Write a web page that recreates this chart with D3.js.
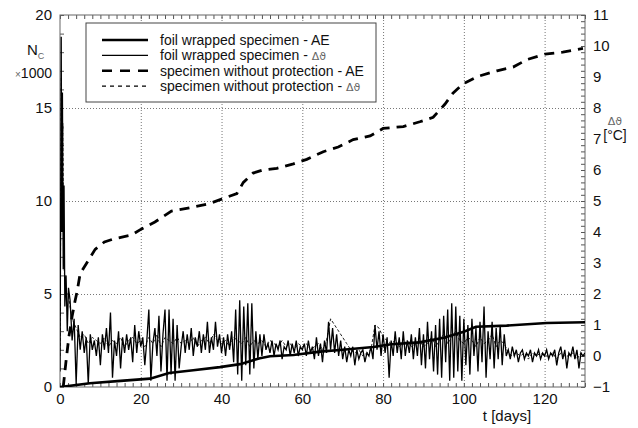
<!DOCTYPE html>
<html lang="en">
<head>
<meta charset="UTF-8">
<title>AE counts and temperature</title>
<script src="https://d3js.org/d3.v7.min.js"></script>
<style>
  body { margin: 0; background: #fff; }
  svg { font-family: "Liberation Sans", Arial, sans-serif; }
  .lbl text { font-size: 15px; fill: #111; }
  .grid line { stroke: #777; stroke-dasharray: 1,2; }
  .minor line { stroke: #555; }
  .domain { display: none; }
</style>
</head>
<body>
<div id="chart"></div>
<script>
// ---- data ----
const xTicks = [0, 20, 40, 60, 80, 100, 120]
const leftTicks = [0, 5, 10, 15, 20]
const rightTicks = [-1, 0, 1, 2, 3, 4, 5, 6, 7, 8, 9, 10, 11]

// cumulative AE counts, N_C x1000  [t days, value]
const foilAE = [[0,0],[2,0.05],[7.4,0.2],[15,0.33],[22.3,0.45],[27,0.75],[33,0.9],[39.6,1.07],
  [44.6,1.23],[49.5,1.55],[52,1.65],[57.8,1.72],[64.4,1.9],[70,2.0],[77.6,2.15],[82,2.3],
  [89,2.4],[95,2.65],[100,2.97],[103,3.24],[110.6,3.3],[120.5,3.44],[130,3.48]]

const bareAE = [[0.8,0],[1.5,1.4],[2.2,2.7],[3,3.8],[3.7,4.6],[4.2,5.1],[5,6.1],[7,6.8],
  [8.7,7.4],[11,7.8],[13.1,7.95],[17.7,8.17],[20.2,8.5],[23.5,8.87],[27.6,9.46],[31.7,9.62],
  [36.7,9.84],[40,10.1],[43.8,10.4],[45.4,11.0],[47.8,11.5],[50,11.65],[53.7,11.76],[57.8,12.0],
  [61.1,12.24],[65.2,12.65],[68.9,12.9],[72.6,13.3],[76.8,13.5],[80,13.9],[85,14.0],[89.1,14.26],
  [92.4,14.5],[95.3,15.2],[97.3,15.8],[99.8,16.3],[103.5,16.7],[108.2,17.0],[112.2,17.2],
  [115.6,17.6],[120.1,17.9],[124.5,18.0],[129.5,18.2]]

// temperature difference, °C
const foilDtStart = [[0,-0.5],[0.2,6],[0.3,10.3],[0.45,4],[0.6,8.5],[0.8,2.8],[1.0,5.5],
  [1.2,1.6],[1.5,2.6],[1.8,0.8],[2.1,2.2]]
const foilDtFrom = 2.5
const foilDtStep = 0.5
const foilDt = [
  1.8, 0.5, 1.2, -0.9, 1.0, 0.2,
  0.8, 0.1, 0.6, -0.9, 0.7, 0.2, 0.5, 0.0, 0.6, -0.3, 0.7, 0.2, 0.9, 0.1,
  1.4, -0.7, 0.5, 0.0, 0.8, -0.4, 0.6, 0.1, 0.7, 0.2, 0.6, -0.2, 1.0, 0.1, 0.8, 0.3,
  0.6, -0.3, 0.5, 1.5, -0.8, 0.4, 0.9, 0.0, 1.3, -0.5, 0.7, 1.5, -0.8, 1.5, -0.6, 1.2, -0.8, 1.0, -0.4, 0.3,
  0.8, 0.1, 0.7, 0.2, 0.9, 0.0, 0.6, 0.3, 0.8, 0.1, 0.7, 0.2, 1.1, 0.1, 0.6, 0.2, 1.1, 0.3, 0.7, 0.1,
  0.6, 0.0, 0.7, 0.2, 0.8, -0.2, 1.5, -0.6, 1.8, -0.8, 1.6, -0.3, 1.7, -0.6, 1.7, -0.4, 0.8, -0.1, 0.7, 0.0,
  0.7, 0.2, 0.4, 0.1, 0.5, 0.0, 0.4, 0.2, 0.5, -0.1, 0.3, 0.2, 0.5, 0.0, 0.4, 0.1, 0.5, 0.0, 0.3, 0.2,
  0.4, 0.0, 0.5, 0.1, 0.3, -0.1, 0.6, 0.0, 0.4, -0.2, 0.5, 0.1, 1.1, 0.2, 0.9, 0.1, 0.7, 0.0, 0.5, -0.1,
  0.3, -0.2, 0.2, 0.0, 0.3, -0.3, 0.2, -0.1, 0.1, 0.2, -0.2, 0.1, 0.0, 0.3, -0.1, 1.0, 0.2, 0.8, 0.0, 0.7,
  0.1, 0.6, -0.7, 0.5, 0.0, 0.8, 0.1, 0.6, -0.1, 0.8, 0.0, 0.5, 0.1, 0.7, -0.1, 0.6, 0.0, 0.9, -0.3, 0.7,
  -0.4, 1.1, -0.1, 0.8, -0.5, 1.0, -0.6, 1.2, -0.7, 1.3, -0.2, 1.5, -0.8, 1.7, -0.7, 1.6, -0.5, 1.3, -0.8, 1.2,
  -0.3, 1.0, -0.6, 1.2, 0.0, 0.9, -0.5, 1.1, -0.2, 1.6, -0.7, 0.8, -0.1, 1.1, -0.4, 0.9, -0.1, 1.0, -0.3, 0.7,
  0.0, 0.2, -0.1, 0.3, 0.0, 0.2, -0.2, 0.1, 0.2, -0.1, 0.1, 0.0, 0.2, -0.2, 0.1, 0.0, 0.2, -0.1, 0.1, 0.0,
  0.2, -0.1, 0.1, 0.0, 0.2, -0.3, 0.1, 0.3, -0.1, 0.2, -0.4, 0.1, 0.0, 0.3, -0.1, 0.2, -0.4, 0.1, 0.0, 0.1
]

const bareDtStart = [[0,0],[0.35,9.0],[0.5,5],[0.7,7.5],[0.9,3.2],[1.2,2.4],[1.5,2.0]]
const bareDtFrom = 2
const bareDtStep = 1
const bareDt = [
  2.0, 1.2, 0.9, 0.6, 0.7, 0.4, 0.6, 0.5, 0.4,
  0.6, 0.3, 0.5, 0.4, 0.6, 0.3, 0.5, 0.6, 0.4, 0.5,
  0.3, 0.6, 0.4, 0.7, 0.3, 0.6, 0.5, 0.4, 0.6, 0.4,
  0.5, 0.4, 0.6, 0.3, 0.5, 0.6, 0.4, 0.7, 0.5, 0.4,
  0.5, 0.3, 0.6, 0.5, 0.4, 0.6, 0.3, 0.5, 0.4, 0.5,
  0.3, 0.5, 0.4, 0.3, 0.5, 0.3, 0.4, 0.2, 0.4, 0.3,
  0.4, 0.2, 0.3, 0.4, 0.2, 0.5, 1.2, 1.0, 0.8, 0.6,
  0.4, 0.2, 0.1, 0.2, 0.0, 0.1, 0.2, 1.0, 0.9, 0.6,
  0.5, 0.4, 0.5, 0.3, 0.4, 0.5, 0.3, 0.4, 0.5, 0.3,
  0.4, 0.6, 0.3, 0.5, 0.7, 0.4, 0.6, 0.8, 0.5, 0.4,
  0.6, 0.5, 0.3, 0.6, 0.4, 0.5, 0.7, 0.3, 0.5, 0.4,
  0.1, 0.0, 0.1, 0.0, 0.1, -0.1, 0.1, 0.0, 0.1, 0.0,
  0.0, 0.1, -0.1, 0.1, 0.0, 0.0, 0.1, -0.1, 0.1, 0.0
]

const legendItems = [
  { text: 'foil wrapped specimen - AE', sym: '', width: 2.6, dash: null },
  { text: 'foil wrapped specimen - ', sym: 'Δϑ', width: 1.2, dash: null },
  { text: 'specimen without protection - AE', sym: '', width: 2.6, dash: '10,8' },
  { text: 'specimen without protection - ', sym: 'Δϑ', width: 1.2, dash: '4,4' }
]

// ---- layout ----
const W = 638, H = 428
const pL = 60, pR = 585, pT = 15, pB = 387

const svg = d3.select('#chart').append('svg')
  .attr('width', W).attr('height', H)

const x = d3.scaleLinear().domain([0, 130]).range([pL, pR])
const yL = d3.scaleLinear().domain([0, 20]).range([pB, pT])
const yR = d3.scaleLinear().domain([-1, 11]).range([pB, pT])

// grid
svg.append('g').attr('class', 'grid')
  .attr('transform', `translate(0,${pB})`)
  .call(d3.axisBottom(x).tickValues([20, 40, 60, 80, 100, 120]).tickSize(-(pB - pT)).tickFormat(''))
svg.append('g').attr('class', 'grid')
  .attr('transform', `translate(${pL},0)`)
  .call(d3.axisLeft(yL).tickValues([5, 10, 15]).tickSize(-(pR - pL)).tickFormat(''))

// minor ticks, all pointing inward
svg.append('g').attr('class', 'minor')
  .attr('transform', `translate(0,${pB})`)
  .call(d3.axisBottom(x).tickValues(d3.range(0, 131, 2)).tickSize(-4).tickFormat(''))
svg.append('g').attr('class', 'minor')
  .attr('transform', `translate(0,${pT})`)
  .call(d3.axisTop(x).tickValues(d3.range(0, 131, 2)).tickSize(-4).tickFormat(''))
svg.append('g').attr('class', 'minor')
  .attr('transform', `translate(${pL},0)`)
  .call(d3.axisLeft(yL).tickValues(d3.range(0, 21, 1)).tickSize(-4).tickFormat(''))
svg.append('g').attr('class', 'minor')
  .attr('transform', `translate(${pR},0)`)
  .call(d3.axisRight(yR).tickValues(d3.range(-1, 11.01, 0.2)).tickSize(-4).tickFormat(''))

// tick labels
svg.append('g').attr('class', 'lbl')
  .attr('transform', `translate(0,${pB})`)
  .call(d3.axisBottom(x).tickValues(xTicks).tickSize(0).tickPadding(6))
svg.append('g').attr('class', 'lbl')
  .attr('transform', `translate(${pL},0)`)
  .call(d3.axisLeft(yL).tickValues(leftTicks).tickSize(0).tickPadding(8))
svg.append('g').attr('class', 'lbl')
  .attr('transform', `translate(${pR},0)`)
  .call(d3.axisRight(yR).tickValues(rightTicks).tickSize(0).tickPadding(8))

// frame
svg.append('rect')
  .attr('x', pL).attr('y', pT)
  .attr('width', pR - pL).attr('height', pB - pT)
  .attr('fill', 'none').attr('stroke', '#666').attr('stroke-width', 1)

// data lines
svg.append('clipPath').attr('id', 'clip')
  .append('rect').attr('x', pL).attr('y', pT)
  .attr('width', pR - pL).attr('height', pB - pT)

const plot = svg.append('g').attr('clip-path', 'url(#clip)')

const lineL = d3.line().x(d => x(d[0])).y(d => yL(d[1]))
const lineR = d3.line().x(d => x(d[0])).y(d => yR(d[1]))

const bareDtPts = bareDtStart.concat(bareDt.map((v, i) => [bareDtFrom + i * bareDtStep, v]))
const foilDtPts = foilDtStart.concat(foilDt.map((v, i) => [foilDtFrom + i * foilDtStep, v]))

plot.append('path').datum(bareDtPts)
  .attr('d', lineR).attr('fill', 'none')
  .attr('stroke', '#222').attr('stroke-width', 1).attr('stroke-dasharray', '3,2')

plot.append('path').datum(foilDtPts)
  .attr('d', lineR).attr('fill', 'none')
  .attr('stroke', '#000').attr('stroke-width', 1.3)

plot.append('path').datum(bareAE)
  .attr('d', lineL).attr('fill', 'none')
  .attr('stroke', '#000').attr('stroke-width', 2.8).attr('stroke-dasharray', '10,7')

plot.append('path').datum(foilAE)
  .attr('d', lineL).attr('fill', 'none')
  .attr('stroke', '#000').attr('stroke-width', 2.6)

// legend
const lg = svg.append('g')
lg.append('rect')
  .attr('x', 86).attr('y', 23).attr('width', 290).attr('height', 79)
  .attr('fill', '#fff').attr('stroke', '#444').attr('stroke-width', 1)

legendItems.forEach((it, i) => {
  const cy = 40 + i * 15.4
  lg.append('line')
    .attr('x1', 102).attr('x2', 148).attr('y1', cy).attr('y2', cy)
    .attr('stroke', '#000').attr('stroke-width', it.width)
    .attr('stroke-dasharray', it.dash)
  const t = lg.append('text')
    .attr('x', 160).attr('y', cy + 5)
    .attr('font-size', 14).attr('fill', '#111')
    .text(it.text)
  if (it.sym) {
    t.append('tspan').attr('font-family', 'DejaVu Sans').attr('font-size', 11)
      .attr('fill', '#666').text(it.sym)
  }
})

// axis titles
const nT = svg.append('text').attr('x', 27).attr('y', 55).attr('font-size', 15).attr('fill', '#111')
nT.text('N')
nT.append('tspan').attr('font-size', 9).attr('fill', '#666').attr('dy', 4).text('C')
const kT = svg.append('text').attr('x', 15).attr('y', 78).attr('font-size', 14).attr('fill', '#111')
kT.append('tspan').attr('font-size', 10).attr('fill', '#666').text('×')
kT.append('tspan').text('1000')

svg.append('text').attr('x', 615).attr('y', 125).attr('text-anchor', 'middle')
  .attr('font-family', 'DejaVu Sans').attr('font-size', 11).attr('fill', '#666').text('Δϑ')
svg.append('text').attr('x', 615).attr('y', 140).attr('text-anchor', 'middle')
  .attr('font-size', 14).attr('fill', '#111').text('[°C]')

svg.append('text').attr('x', 507).attr('y', 421).attr('text-anchor', 'middle')
  .attr('font-size', 15).attr('fill', '#111').text('t [days]')
</script>
</body>
</html>
